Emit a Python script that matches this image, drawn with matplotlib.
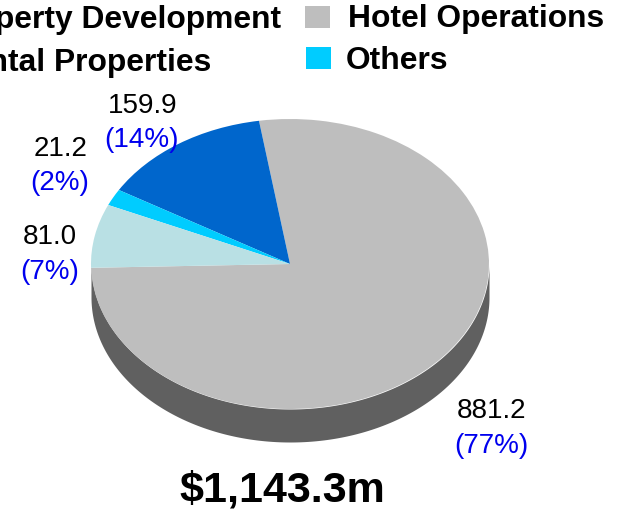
import numpy as np
import matplotlib
matplotlib.use("Agg")
import matplotlib.pyplot as plt
from matplotlib.patches import Rectangle

W, H = 623, 510
plt.rcParams['font.family'] = ['Liberation Sans', 'DejaVu Sans']

# segments, counter-clockwise from the left edge of the pie
segments = ["Hotel Operations", "Property Development", "Others", "Rental Properties"]
values = [881.2, 159.9, 21.2, 81.0]
value_labels = ["881.2", "159.9", "21.2", "81.0"]
pct_labels = ["(77%)", "(14%)", "(2%)", "(7%)"]
colors = ["#bebebe", "#0066cc", "#00ccff", "#b9e0e4"]
total_label = "$1,143.3m"

CX, CY, RX, RY, DEPTH = 290, 265, 199, 145, 33
START = 181.5


def px(x, y):
    # reference pixel -> figure fraction
    return x / W, 1 - y / H


fig = plt.figure(figsize=(W / 100, H / 100), dpi=100)
ax = fig.add_axes([0, 0, 1, 1])

# side wall of the tilted pie
t = np.radians(np.linspace(180, 360, 300))
ax.fill_between(np.cos(t), np.sin(t), np.sin(t) - DEPTH / RY, color="#606060", lw=0)
ax.pie(values, colors=colors, startangle=START, counterclock=True, radius=1,
       wedgeprops=dict(linewidth=0))

# unit circle becomes the ellipse, positioned in pixels
ax.set_aspect("auto")
ax.set_xlim(-CX / RX, (W - CX) / RX)
ax.set_ylim(-(H - CY) / RY, CY / RY)
ax.axis("off")

# value labels
label_pos = [(492, 411, 491, 446), (143, 106, 142, 140), (61, 149, 60, 183), (50, 237, 50, 272)]
for val, pct, (xv, yv, xp, yp) in zip(value_labels, pct_labels, label_pos):
    fig.text(*px(xv, yv), val, ha="center", va="center", fontsize=20, color="black")
    fig.text(*px(xp, yp), pct, ha="center", va="center", fontsize=20, color="#0000ee")

# legend, the left column runs off the canvas as in the reference
LEG_SIZE = 22.9
fig.text(*px(281, 20), segments[1], ha="right", va="center", fontsize=LEG_SIZE, fontweight="bold")
fig.text(*px(211, 63), segments[3], ha="right", va="center", fontsize=LEG_SIZE, fontweight="bold")
fig.text(*px(348, 19), segments[0], ha="left", va="center", fontsize=LEG_SIZE, fontweight="bold")
fig.text(*px(346, 61), segments[2], ha="left", va="center", fontsize=LEG_SIZE, fontweight="bold")
fig.add_artist(Rectangle(px(305, 29), 25 / W, 22 / H, transform=fig.transFigure,
                         facecolor=colors[0], lw=0))
fig.add_artist(Rectangle(px(306, 70), 25 / W, 22 / H, transform=fig.transFigure,
                         facecolor=colors[2], lw=0))

fig.text(*px(282, 491), total_label, ha="center", va="center", fontsize=31, fontweight="bold")

fig.savefig("out.png", dpi=100)
